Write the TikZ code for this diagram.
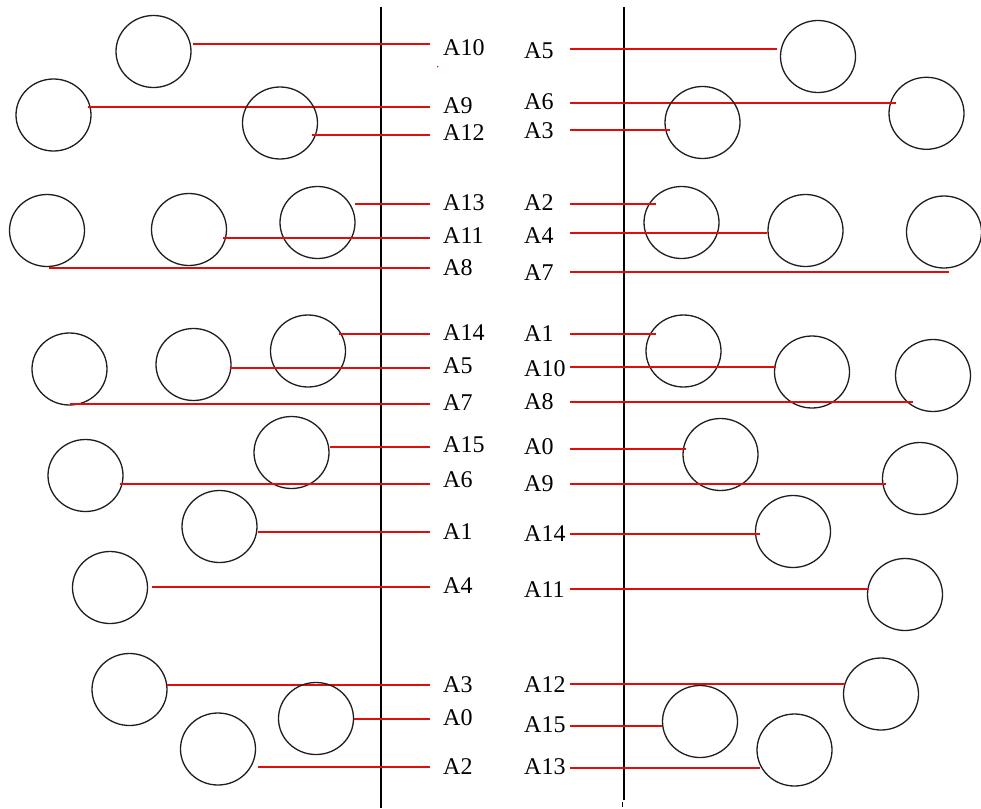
\documentclass[tikz,border=0pt]{standalone}
\usepackage{fontspec}
\setmainfont{Liberation Serif}
\usetikzlibrary{shapes.geometric}
\definecolor{wirered}{RGB}{225,12,12}
\definecolor{ringgray}{RGB}{30,30,30}
\tikzset{
  ring/.style={ellipse, draw=ringgray, line width=1.3pt, minimum width=75pt, minimum height=72pt, inner sep=0pt},
  pinlabel/.style={anchor=west, inner sep=0pt, font=\fontsize{24}{28}\selectfont},
  wire/.style={draw=wirered, line width=2pt},
  rail/.style={draw=black, line width=1.5pt}
}
\begin{document}
\begin{tikzpicture}[x=1pt,y=-1pt]
\useasboundingbox (0,0) rectangle (981,808);
% two vertical rails
\coordinate (railLtop) at (381,7);
\coordinate (railLbot) at (381,808);
\coordinate (railRtop) at (624,7);
\coordinate (railRbot) at (624,800);
\coordinate (tickTop) at (622,802);
\coordinate (tickBot) at (622,807);
\draw[rail] (railLtop) -- (railLbot);
\draw[rail] (railRtop) -- (railRbot);
\draw[black, line width=1pt] (tickTop) -- (tickBot);
% left group: circle centre, wire end, wire y, label, label y
\foreach \n/\cx/\cy/\ex/\ly/\t/\ty in {
  a/153.5/51.5/193/44/A10/47.5,
  b/53.5/115/87.7/107/A9/106,
  c/280/123/311.7/135/A12/133,
  d/317.5/222.5/355/204/A13/203,
  e/189/229.5/222.7/238/A11/236,
  f/47/230.5/49/268/A8/267.5,
  g/308/351/339/334/A14/332.5,
  h/193.5/364.5/230/368/A5/365.5,
  i/69.5/369/70/404/A7/402.5,
  j/291.5/452.5/330/447/A15/444.5,
  k/85.5/475.5/120/484/A6/480,
  l/219.5/526.5/257.7/532/A1/531.5,
  m/110/587.5/152/587/A4/586,
  n/129.5/689.5/166.7/685/A3/684.5,
  o/316/718.5/354/719/A0/718,
  p/218/749/258/767/A2/767}{
  \node[ring] (Lc\n) at (\cx,\cy) {};
  \node[pinlabel] (Lt\n) at (443,\ty) {\t};
  \coordinate (Le\n) at (\ex,\ly);
  \coordinate (Ls\n) at (430,\ly);
  \draw[wire] (Le\n) -- (Ls\n);
}
% right group
\foreach \n/\cx/\cy/\ex/\ly/\t/\ty in {
  a/818/56.5/776.7/49/A5/50.7,
  b/926.5/113.3/895.7/103/A6/101.7,
  c/702.5/122.5/670/130/A3/130.5,
  d/681.5/222.5/655.7/204/A2/203,
  e/805.5/230.5/767/233/A4/235.3,
  f/944/232/949/272/A7/273,
  g/683.5/351/655.7/334/A1/333.7,
  h/812/372/776/367/A10/368.3,
  i/933/375.5/913/402/A8/401.7,
  j/720.5/454.5/686/449/A0/446.5,
  k/920/478.5/886/484/A9/483.3,
  l/793/531.5/760/534/A14/533.3,
  m/905/594.5/869/589/A11/590,
  n/881/694/845/684/A12/685,
  o/700/721.5/662/726/A15/725,
  p/794.5/750/760/768/A13/767}{
  \node[ring] (Rc\n) at (\cx,\cy) {};
  \node[pinlabel] (Rt\n) at (524,\ty) {\t};
  \coordinate (Re\n) at (\ex,\ly);
  \coordinate (Rs\n) at (570,\ly);
  \draw[wire] (Rs\n) -- (Re\n);
}
% stray ink dot
\fill[wirered] (437.7,66.7) circle (0.8);
\end{tikzpicture}
\end{document}
